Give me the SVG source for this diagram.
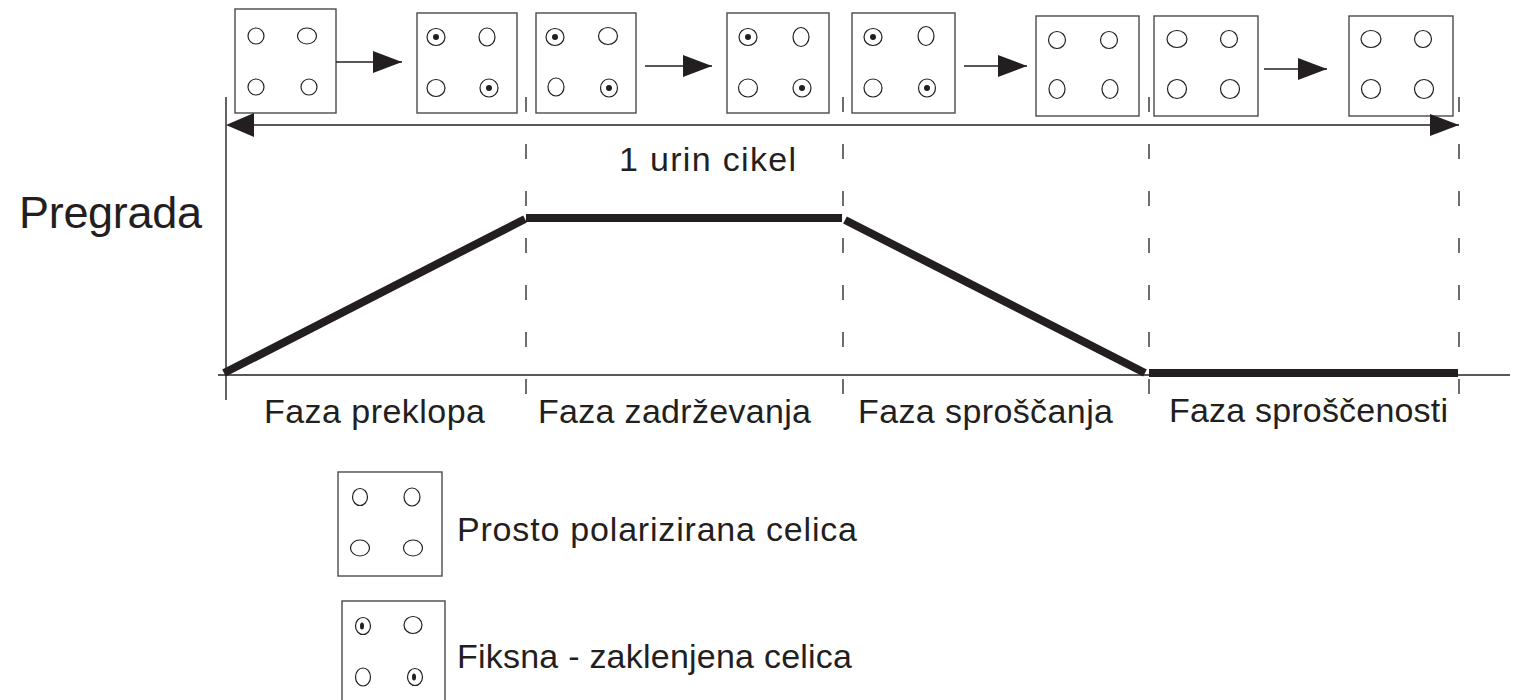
<svg xmlns="http://www.w3.org/2000/svg" width="1517" height="700" viewBox="0 0 1517 700">
<style>
.bg{fill:#ffffff}
.cell{fill:none;stroke:#4a4a4a;stroke-width:1.4}
.hole{fill:none;stroke:#231f20;stroke-width:1.2}
.dot{fill:#231f20}
.thin{stroke:#231f20;stroke-width:1.4;fill:none}
.dash{stroke:#231f20;stroke-width:1.3;fill:none;stroke-dasharray:15 32}
.thick{stroke:#231f20;stroke-width:8;fill:none;stroke-linecap:butt}
.head{fill:#231f20}
text{font-family:"Liberation Sans",Arial,sans-serif;fill:#231f20}
.t{font-size:34px}
.big{font-size:45px}
</style>
<defs>
<marker id="ah" markerUnits="userSpaceOnUse" markerWidth="30" markerHeight="24" refX="29" refY="12" orient="auto">
<path d="M0,1 L29,12 L0,23 Z" class="head"/>
</marker>
</defs>
<rect class="bg" x="0" y="0" width="1517" height="700"/>

<g id="axes">
<line class="thin" x1="226" y1="97" x2="226" y2="400"/>
<line class="thin" x1="218" y1="375" x2="1510" y2="375"/>
<line class="dash" x1="526" y1="97" x2="526" y2="400"/>
<line class="dash" x1="843" y1="97" x2="843" y2="400"/>
<line class="dash" x1="1149" y1="97" x2="1149" y2="400"/>
<line class="dash" x1="1459" y1="97" x2="1459" y2="400"/>
</g>

<g id="curve">
<line class="thick" x1="224" y1="373" x2="525" y2="219"/>
<line class="thick" x1="526" y1="218" x2="842" y2="218"/>
<line class="thick" x1="845" y1="220" x2="1145" y2="373"/>
<line class="thick" x1="1149" y1="373" x2="1458" y2="373"/>
</g>

<g id="cell1">
<rect class="cell" x="235" y="9" width="101" height="104"/>
<ellipse class="hole" cx="256" cy="36" rx="8" ry="8"/>
<ellipse class="hole" cx="307" cy="36" rx="9.5" ry="8"/>
<ellipse class="hole" cx="256" cy="87" rx="8" ry="8"/>
<ellipse class="hole" cx="309" cy="87" rx="8" ry="8"/>
</g>
<g id="cell2">
<rect class="cell" x="417" y="13" width="100" height="100"/>
<ellipse class="hole" cx="436" cy="37" rx="9" ry="8.5"/><circle class="dot" cx="436" cy="37" r="3"/>
<ellipse class="hole" cx="487" cy="37" rx="8" ry="9"/>
<ellipse class="hole" cx="436" cy="88" rx="9" ry="8.5"/>
<ellipse class="hole" cx="489" cy="88" rx="9" ry="9"/><circle class="dot" cx="489" cy="88" r="3"/>
</g>
<g id="cell3">
<rect class="cell" x="536" y="13" width="100" height="100"/>
<ellipse class="hole" cx="555" cy="37" rx="9" ry="8.5"/><circle class="dot" cx="555" cy="37" r="3"/>
<ellipse class="hole" cx="608" cy="36" rx="9.5" ry="8.5"/>
<ellipse class="hole" cx="556" cy="87" rx="8" ry="9"/>
<ellipse class="hole" cx="609" cy="88" rx="8.5" ry="9"/><circle class="dot" cx="609" cy="88" r="3"/>
</g>
<g id="cell4">
<rect class="cell" x="727" y="13" width="102" height="100"/>
<ellipse class="hole" cx="748" cy="37" rx="9" ry="8.5"/><circle class="dot" cx="748" cy="37" r="3"/>
<ellipse class="hole" cx="801" cy="37" rx="8" ry="9.5"/>
<ellipse class="hole" cx="748" cy="88" rx="9.5" ry="9"/>
<ellipse class="hole" cx="802" cy="88" rx="9" ry="9"/><circle class="dot" cx="802" cy="88" r="3"/>
</g>
<g id="cell5">
<rect class="cell" x="852" y="13" width="103" height="100"/>
<ellipse class="hole" cx="873" cy="37" rx="9" ry="8.5"/><circle class="dot" cx="873" cy="37" r="3"/>
<ellipse class="hole" cx="926" cy="36" rx="8" ry="9.5"/>
<ellipse class="hole" cx="873" cy="88" rx="9" ry="9"/>
<ellipse class="hole" cx="927" cy="88" rx="8.5" ry="9"/><circle class="dot" cx="927" cy="88" r="3"/>
</g>
<g id="cell6">
<rect class="cell" x="1036" y="16" width="103" height="100"/>
<ellipse class="hole" cx="1057" cy="40" rx="8.5" ry="8.5"/>
<ellipse class="hole" cx="1109" cy="40" rx="8.5" ry="8.5"/>
<ellipse class="hole" cx="1057" cy="89" rx="8" ry="9.5"/>
<ellipse class="hole" cx="1110" cy="89" rx="8" ry="9.5"/>
</g>
<g id="cell7">
<rect class="cell" x="1154" y="16" width="104" height="100"/>
<ellipse class="hole" cx="1177" cy="39" rx="10" ry="8.5"/>
<ellipse class="hole" cx="1229" cy="39" rx="8.5" ry="8.5"/>
<ellipse class="hole" cx="1177" cy="89" rx="9.5" ry="9.5"/>
<ellipse class="hole" cx="1230" cy="89" rx="9.5" ry="9.5"/>
</g>
<g id="cell8">
<rect class="cell" x="1349" y="16" width="104" height="100"/>
<ellipse class="hole" cx="1371" cy="39" rx="10" ry="8.5"/>
<ellipse class="hole" cx="1423" cy="39" rx="8.5" ry="8.5"/>
<ellipse class="hole" cx="1371" cy="89" rx="9.5" ry="9.5"/>
<ellipse class="hole" cx="1424" cy="89" rx="9.5" ry="9.5"/>
</g>

<g id="connectors">
<line class="thin" x1="336" y1="62" x2="402" y2="62" marker-end="url(#ah)"/>
<line class="thin" x1="645" y1="66" x2="712" y2="66" marker-end="url(#ah)"/>
<line class="thin" x1="964" y1="66" x2="1027" y2="66" marker-end="url(#ah)"/>
<line class="thin" x1="1264" y1="69" x2="1327" y2="69" marker-end="url(#ah)"/>
<line class="thin" x1="240" y1="125" x2="1459" y2="125" marker-end="url(#ah)"/>
<path class="head" d="M226,125 L254,113 L254,137 Z"/>
</g>

<g id="labels">
<text class="big" x="19" y="228" textLength="183" lengthAdjust="spacing">Pregrada</text>
<text class="t" x="619" y="171" textLength="177" lengthAdjust="spacing">1 urin cikel</text>
<text class="t" x="264" y="423" textLength="221" lengthAdjust="spacing">Faza preklopa</text>
<text class="t" x="538" y="423" textLength="273" lengthAdjust="spacing">Faza zadrževanja</text>
<text class="t" x="858" y="423" textLength="255" lengthAdjust="spacing">Faza sproščanja</text>
<text class="t" x="1169" y="422" textLength="279" lengthAdjust="spacing">Faza sproščenosti</text>
</g>

<g id="legend1">
<rect class="cell" x="338" y="472" width="104" height="104"/>
<ellipse class="hole" cx="360" cy="497" rx="7.5" ry="8.5"/>
<ellipse class="hole" cx="412" cy="497" rx="8" ry="9"/>
<ellipse class="hole" cx="360" cy="548" rx="9.5" ry="8"/>
<ellipse class="hole" cx="413" cy="548" rx="9.5" ry="8"/>
<text class="t" x="457" y="541" textLength="400" lengthAdjust="spacing">Prosto polarizirana celica</text>
</g>
<g id="legend2">
<rect class="cell" x="342" y="601" width="103" height="110"/>
<ellipse class="hole" cx="363" cy="626" rx="7.5" ry="8.5"/><ellipse class="dot" cx="362" cy="626" rx="2" ry="3.5"/>
<ellipse class="hole" cx="413" cy="625" rx="9" ry="8.5"/>
<ellipse class="hole" cx="363" cy="677" rx="7.5" ry="9"/>
<ellipse class="hole" cx="415" cy="677" rx="7.5" ry="8.5"/><ellipse class="dot" cx="414" cy="677" rx="2" ry="3.5"/>
<text class="t" x="457" y="668" textLength="395" lengthAdjust="spacing">Fiksna - zaklenjena celica</text>
</g>
</svg>
